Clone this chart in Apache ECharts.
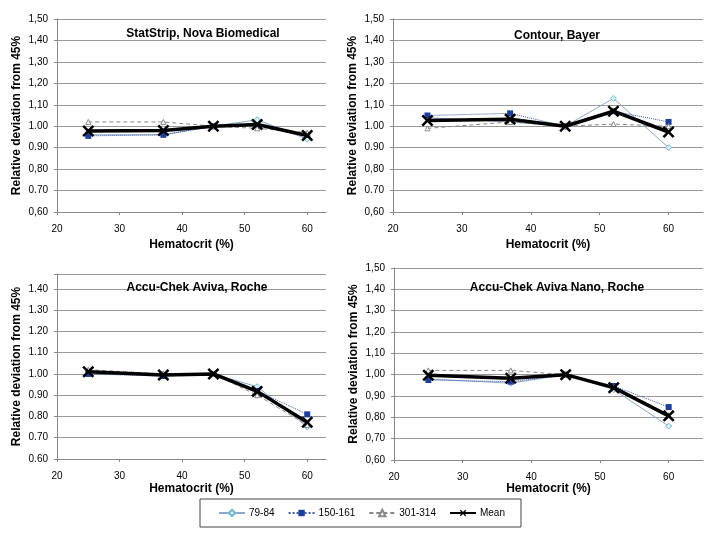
<!DOCTYPE html>
<html><head><meta charset="utf-8">
<script src="https://cdn.jsdelivr.net/npm/echarts@6/dist/echarts.min.js"></script>
<style>html,body{margin:0;padding:0;background:#fff}#c{width:719px;height:534px}</style>
</head><body><div id="c"></div>
<script>
// Data
var hematocrit = [25, 37, 45, 52, 60];
var seriesNames = ['79-84', '150-161', '301-314', 'Mean'];
var panelTitles = ['StatStrip, Nova Biomedical', 'Contour, Bayer', 'Accu-Chek Aviva, Roche', 'Accu-Chek Aviva Nano, Roche'];

var statstrip_79 = [0.96, 0.96, 1.00, 1.03, 0.94];
var statstrip_150 = [0.955, 0.96, 1.00, 1.005, 0.96];
var statstrip_301 = [1.02, 1.02, 1.00, 0.99, 0.97];
var statstrip_mean = [0.978, 0.98, 1.00, 1.008, 0.957];

var contour_79 = [1.04, 1.02, 1.00, 1.13, 0.90];
var contour_150 = [1.05, 1.06, 1.00, 1.07, 1.02];
var contour_301 = [0.99, 1.02, 1.00, 1.01, 1.00];
var contour_mean = [1.027, 1.033, 1.00, 1.07, 0.973];

var aviva_79 = [1.01, 1.00, 1.00, 0.94, 0.75];
var aviva_150 = [1.00, 0.99, 1.00, 0.92, 0.81];
var aviva_301 = [1.02, 1.00, 1.00, 0.90, 0.76];
var aviva_mean = [1.01, 0.995, 1.00, 0.918, 0.773];

var nano_79 = [0.98, 0.96, 1.00, 0.93, 0.759];
var nano_150 = [0.975, 0.967, 1.00, 0.947, 0.848];
var nano_301 = [1.02, 1.02, 1.00, 0.94, 0.81];
var nano_mean = [0.997, 0.983, 1.00, 0.939, 0.807];

var xTickValues = [20, 30, 40, 50, 60];
var yTickValues = [0.6, 0.7, 0.8, 0.9, 1.0, 1.1, 1.2, 1.3, 1.4, 1.5];
var yLabels1 = ['0,60', '0.70', '0,80', '0.90', '1.00', '1,10', '1,20', '1,30', '1,40', '1,50'];
var yLabels2 = ['0,60', '0.70', '0,80', '0.90', '1.00', '1,10', '1,20', '1,30', '1,40', '1,50'];
var yLabels3 = ['0.60', '0.70', '0.80', '0.90', '1.00', '1.10', '1.20', '1.30', '1.40', ''];
var yLabels4 = ['0,60', '0,70', '0,80', '0,90', '1,00', '1,10', '1,20', '1,30', '1,40', '1,50'];

var panelData = [
  [statstrip_79, statstrip_150, statstrip_301, statstrip_mean],
  [contour_79, contour_150, contour_301, contour_mean],
  [aviva_79, aviva_150, aviva_301, aviva_mean],
  [nano_79, nano_150, nano_301, nano_mean]
];
var yLabelSets = [yLabels1, yLabels2, yLabels3, yLabels4];

// Layout
var FONT = '"Liberation Sans", Arial, sans-serif';
var grids = [
  {left: 57, top: 19, width: 269, height: 193, xMax: 63, yMax: 1.5, titleX: 198, titleY: 23, nameGap: 27},
  {left: 393, top: 19, width: 310, height: 193, xMax: 65, yMax: 1.5, titleX: 552, titleY: 25, nameGap: 27},
  {left: 57, top: 274, width: 269, height: 185, xMax: 63, yMax: 1.47, titleX: 192, titleY: 277, nameGap: 24},
  {left: 394, top: 268, width: 309, height: 192, xMax: 65, yMax: 1.5, titleX: 552, titleY: 277, nameGap: 23}
];
var crossPath = 'path://M0,1.5 L1.5,0 L5,3.5 L8.5,0 L10,1.5 L6.5,5 L10,8.5 L8.5,10 L5,6.5 L1.5,10 L0,8.5 L3.5,5 Z';

var styles = [
  {line: {color: '#8aa8c8', width: 1, type: 'solid'}, symbol: 'diamond', size: 6, item: {color: '#d8f4fa', borderColor: '#6fb6d2', borderWidth: 1}},
  {line: {color: '#3a5aa8', width: 1, type: 'dotted'}, symbol: 'rect', size: 6, item: {color: '#1b3d9c', borderColor: '#1b3d9c', borderWidth: 0}},
  {line: {color: '#888888', width: 1, type: [4, 3]}, symbol: 'triangle', size: 5, item: {color: '#ffffff', borderColor: '#888888', borderWidth: 1}},
  {line: {color: '#000000', width: 3.5, type: 'solid'}, symbol: crossPath, size: 12, item: {color: '#000000', borderColor: '#000000', borderWidth: 0}}
];

function fmtFactory(labels) {
  return function (v) {
    for (var i = 0; i < yTickValues.length; i++) {
      if (Math.abs(v - yTickValues[i]) < 1e-6) return labels[i];
    }
    return '';
  };
}

var option = {
  animation: false,
  backgroundColor: '#fff',
  textStyle: {fontFamily: FONT},
  title: grids.map(function (g, i) {
    return {text: panelTitles[i], left: g.titleX, top: g.titleY, textAlign: 'center',
      textStyle: {fontFamily: FONT, fontSize: 12, fontWeight: 'bold', color: '#000'}};
  }),
  legend: {
    data: seriesNames, left: 200, top: 499,
    borderColor: '#444', borderWidth: 1, padding: [9, 16, 9, 18],
    itemGap: 13, itemWidth: 26, itemHeight: 8,
    textStyle: {fontFamily: FONT, fontSize: 10, color: '#000', padding: [0, 0, 0, -1]}
  },
  grid: grids.map(function (g) { return {left: g.left, top: g.top, width: g.width, height: g.height}; }),
  xAxis: grids.map(function (g, i) {
    return {
      type: 'value', gridIndex: i, min: 20, max: g.xMax, interval: 10,
      name: 'Hematocrit (%)', nameLocation: 'middle', nameGap: g.nameGap,
      nameTextStyle: {fontFamily: FONT, fontSize: 12, fontWeight: 'bold', color: '#000'},
      axisLine: {lineStyle: {color: '#888', width: 1}},
      axisTick: {show: true, length: 3, lineStyle: {color: '#888'}, customValues: xTickValues},
      axisLabel: {fontFamily: FONT, fontSize: 10, color: '#000', margin: 12, customValues: xTickValues,
        formatter: function (v) { return xTickValues.indexOf(v) >= 0 ? String(v) : ''; }},
      splitLine: {show: false}
    };
  }),
  yAxis: grids.map(function (g, i) {
    return {
      type: 'value', gridIndex: i, min: 0.6, max: g.yMax, interval: 0.1,
      name: 'Relative deviation from 45%', nameLocation: 'middle', nameGap: 34, nameRotate: 90,
      nameTextStyle: {fontFamily: FONT, fontSize: 12, fontWeight: 'bold', color: '#000'},
      axisLine: {show: true, lineStyle: {color: '#888', width: 1}},
      axisTick: {show: true, length: 3, lineStyle: {color: '#888'}},
      axisLabel: {fontFamily: FONT, fontSize: 10, color: '#000', margin: 9, formatter: fmtFactory(yLabelSets[i])},
      splitLine: {show: true, lineStyle: {color: '#999', width: 1}}
    };
  }),
  series: []
};

panelData.forEach(function (sets, gi) {
  sets.forEach(function (vals, si) {
    var st = styles[si];
    option.series.push({
      type: 'line', name: seriesNames[si], xAxisIndex: gi, yAxisIndex: gi,
      data: hematocrit.map(function (x, k) { return [x, vals[k]]; }),
      symbol: st.symbol, symbolSize: st.size, showSymbol: true,
      lineStyle: st.line, itemStyle: st.item, z: si === 3 ? 5 : 2
    });
  });
});

var chart = echarts.init(document.getElementById('c'), null, {renderer: 'canvas'});
chart.setOption(option);
</script>
</body></html>
